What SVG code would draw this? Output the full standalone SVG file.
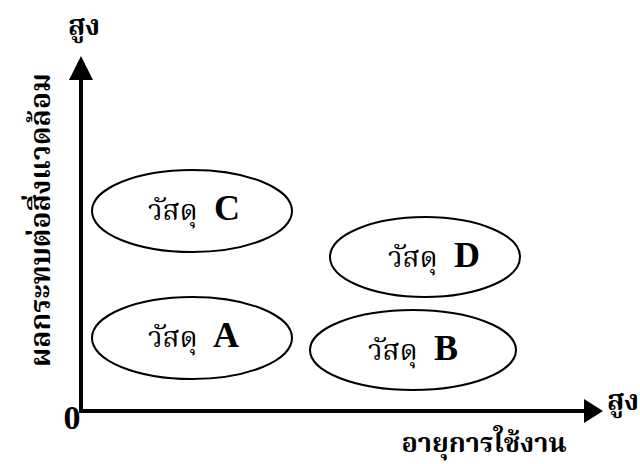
<svg xmlns="http://www.w3.org/2000/svg" width="640" height="464" viewBox="0 0 640 464">
<style>
.el{fill:#fff;stroke:#000;stroke-width:2}
.th{font-family:"Liberation Serif","Noto Serif Thai","Noto Sans Thai",serif;font-size:28px;fill:#000}
.lt{font-family:"Liberation Serif","Noto Serif Thai","Noto Sans Thai",serif;font-weight:bold;fill:#000}
.big{font-family:"Liberation Serif",serif;font-size:36px;font-weight:bold;fill:#000}
.ax{stroke:#000;stroke-width:4;fill:none}
</style>
<rect width="640" height="464" fill="#fff"/>
<g id="connectors">
<line class="ax" x1="81" y1="413" x2="81" y2="80"/>
<path d="M69,80 L93,80 L81,56 Z" fill="#000"/>
<line class="ax" x1="79" y1="411" x2="584" y2="411"/>
<path d="M584,399 L584,423 L603,411 Z" fill="#000"/>
</g>
<g id="axis-labels">
<text class="lt" x="84" y="35" font-size="28" text-anchor="middle">สูง</text>
<text class="lt" x="0" y="0" font-size="28" text-anchor="middle" transform="translate(50,220) rotate(-90)">ผลกระทบต่อสิ่งแวดล้อม</text>
<text class="lt" x="72" y="429" font-size="34" text-anchor="middle">0</text>
<text class="lt" x="623" y="410" font-size="28" text-anchor="middle">สูง</text>
<text class="lt" x="484" y="452" font-size="27" text-anchor="middle">อายุการใช้งาน</text>
</g>
<g id="node-c">
<ellipse class="el" cx="192" cy="211" rx="100" ry="41"/>
<text class="th" x="148" y="220">วัสดุ</text>
<text class="big" x="214" y="220">C</text>
</g>
<g id="node-a">
<ellipse class="el" cx="192" cy="338" rx="100" ry="41"/>
<text class="th" x="148" y="347">วัสดุ</text>
<text class="big" x="213" y="347">A</text>
</g>
<g id="node-d">
<ellipse class="el" cx="425" cy="257" rx="95" ry="40"/>
<text class="th" x="388" y="267">วัสดุ</text>
<text class="big" x="454" y="267">D</text>
</g>
<g id="node-b">
<ellipse class="el" cx="413" cy="350" rx="103" ry="40"/>
<text class="th" x="368" y="360">วัสดุ</text>
<text class="big" x="434" y="360">B</text>
</g>
</svg>
